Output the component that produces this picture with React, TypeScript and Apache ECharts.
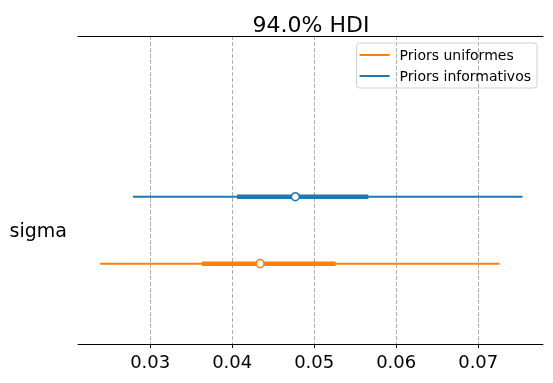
import React, { useEffect, useRef } from "react";
import * as echarts from "echarts";

const models = ["Priors uniformes", "Priors informativos"];
const colors = ["#ff7f0e", "#1f77b4"];
const rowPos = [0, 1];
const hdiLow = [0.0239, 0.0279];
const hdiHigh = [0.0726, 0.0754];
const iqrLow = [0.0363, 0.0406];
const iqrHigh = [0.0526, 0.0566];
const medians = [0.0434, 0.0477];
const xTicks = [0.03, 0.04, 0.05, 0.06, 0.07];
const varName = "sigma";
const varPos = 0.5;

const FONT = "DejaVu Sans";

export default function App() {
  const ref = useRef<HTMLDivElement>(null);
  useEffect(() => {
    if (!ref.current) return;
    const chart = echarts.init(ref.current, null, { renderer: "svg" });
    const series: any[] = [];
    models.forEach((m, i) => {
      series.push({
        name: m,
        type: "line",
        data: [[hdiLow[i], rowPos[i]], [hdiHigh[i], rowPos[i]]],
        symbol: "none",
        lineStyle: { color: colors[i], width: 2 },
        itemStyle: { color: colors[i] },
        z: 2,
      });
      series.push({
        name: m,
        type: "line",
        data: [[iqrLow[i], rowPos[i]], [iqrHigh[i], rowPos[i]]],
        symbol: "none",
        lineStyle: { color: colors[i], width: 4.5 },
        itemStyle: { color: colors[i] },
        z: 3,
      });
      series.push({
        name: m,
        type: "scatter",
        data: [[medians[i], rowPos[i]]],
        symbol: "circle",
        symbolSize: 8,
        itemStyle: { color: "#ffffff", borderColor: colors[i], borderWidth: 1.5, opacity: 1 },
        z: 4,
      });
    });
    chart.setOption({
      animation: false,
      textStyle: { fontFamily: FONT },
      title: {
        text: "94.0% HDI",
        left: 306,
        textAlign: "center",
        top: 8,
        textStyle: { fontFamily: FONT, fontSize: 22, fontWeight: "normal", color: "#000" },
      },
      legend: {
        data: models.map((m, i) => ({ name: m, icon: "rect", itemStyle: { color: colors[i] } })),
        orient: "vertical",
        right: 16,
        top: 43,
        itemWidth: 30,
        itemHeight: 2,
        itemGap: 7,
        padding: [5, 6, 5, 3],
        borderColor: "#d0d0d0",
        borderWidth: 1,
        borderRadius: 3,
        textStyle: { fontFamily: FONT, fontSize: 14, color: "#000", padding: [0, 0, 0, 5] },
      },
      grid: { left: 78, right: 10, top: 36, bottom: 39, containLabel: false },
      xAxis: [
        {
          type: "value",
          position: "bottom",
          min: 0.0212,
          max: 0.0779,
          axisLine: { show: true, onZero: false, lineStyle: { color: "#000", width: 1 } },
          axisTick: { show: true, customValues: xTicks, length: 4, lineStyle: { color: "#000" } },
          axisLabel: {
            customValues: xTicks,
            formatter: (v: number) => v.toFixed(2),
            fontFamily: FONT,
            fontSize: 18,
            color: "#000",
            margin: 8,
          },
          splitLine: { show: true, lineStyle: { color: "#b0b0b0", type: [4, 2], width: 1 } },
        },
        {
          type: "value",
          position: "top",
          min: 0.0212,
          max: 0.0779,
          axisLine: { show: true, onZero: false, lineStyle: { color: "#000", width: 1 } },
          axisTick: { show: false },
          axisLabel: { show: false },
          splitLine: { show: false },
        },
      ],
      yAxis: {
        type: "value",
        min: -1.2,
        max: 3.4,
        axisLine: { show: false },
        axisTick: { show: false },
        splitLine: { show: false },
        axisLabel: {
          customValues: [varPos],
          formatter: () => varName,
          fontFamily: FONT,
          fontSize: 19,
          color: "#000",
          margin: 11,
        },
      },
      series,
    });
    return () => chart.dispose();
  }, []);
  return (
    <div
      ref={ref}
      style={{ position: "fixed", left: 0, top: 0, width: 553, height: 383 }}
    />
  );
}
